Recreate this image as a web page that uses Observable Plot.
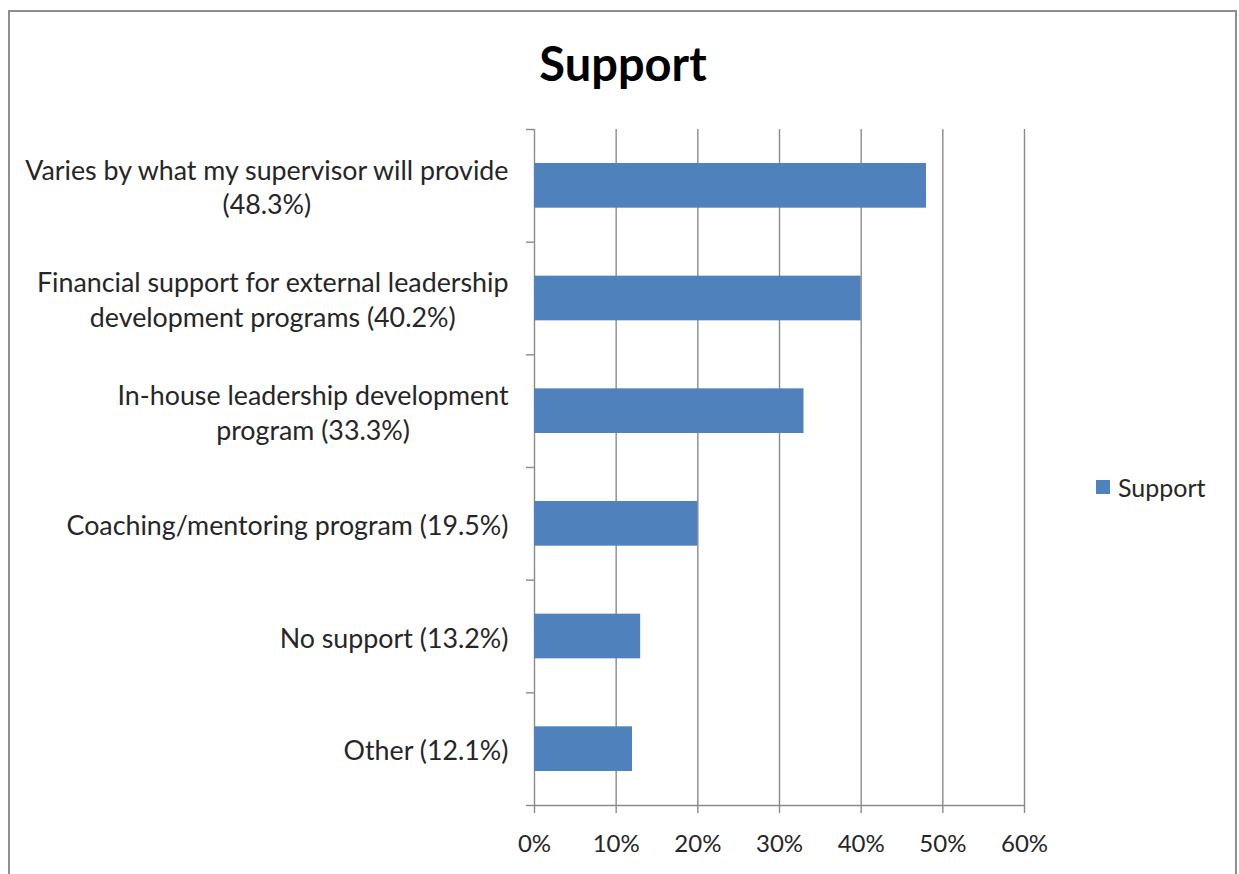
<!DOCTYPE html>
<html>
<head>
<meta charset="utf-8">
<script src="https://cdn.jsdelivr.net/npm/d3@7"></script>
<script src="https://cdn.jsdelivr.net/npm/@observablehq/plot@0.6"></script>
<style>
  html, body { margin: 0; padding: 0; overflow: hidden; background: #fff; }
  #wrap { position: relative; width: 1239px; height: 874px; font-family: Lato, "Open Sans", sans-serif; }
  #frame { position: absolute; left: 8px; top: 10px; width: 1229px; height: 900px; box-sizing: border-box; border: 2px solid #8e8e8e; border-bottom: none; }
  #title { position: absolute; left: 0; width: 1246px; top: 40px; text-align: center; font-size: 47px; font-weight: bold; color: #000; line-height: 1; }
  #chart { position: absolute; left: 0; top: 0; }
  #legend { position: absolute; left: 1096px; top: 470px; }
  #legend svg { margin-right: 8px !important; }
</style>
</head>
<body>
<div id="wrap">
  <div id="frame"></div>
  <div id="title">Support</div>
  <div id="chart"></div>
  <div id="legend"></div>
</div>
<script>
const categories = [
  "Varies by what my supervisor will provide\n(48.3%)",
  "Financial support for external leadership\ndevelopment programs (40.2%)",
  "In-house leadership development\nprogram (33.3%)",
  "Coaching/mentoring program (19.5%)",
  "No support (13.2%)",
  "Other (12.1%)"
];
const values = [0.48, 0.40, 0.33, 0.20, 0.13, 0.12];
const xTicks = [0, 0.1, 0.2, 0.3, 0.4, 0.5, 0.6];
const seriesName = "Support";
const barColor = "#4f81bd";

const data = categories.map((c, i) => ({category: c, index: i, value: values[i]}));
const boundaries = d3.range(categories.length + 1);
const centers = categories.map((c, i) => i + 0.5);

const plot = Plot.plot({
  width: 1239,
  height: 874,
  marginLeft: 534,
  marginRight: 215,
  marginTop: 129,
  marginBottom: 69,
  style: {fontFamily: "Lato, 'Open Sans', sans-serif", color: "#262626", background: "transparent"},
  x: {domain: [0, 0.6], label: null},
  y: {domain: [0, categories.length], reverse: true, label: null},
  marks: [
    Plot.gridX(xTicks, {stroke: "#8a8a8a", strokeOpacity: 1, strokeWidth: 1.4}),
    Plot.ruleY([categories.length], {stroke: "#8a8a8a", strokeWidth: 1.4}),
    Plot.rectX(data, {x1: 0, x2: "value", y1: "index", y2: d => d.index + 1, insetTop: 34, insetBottom: 34, fill: barColor}),
    Plot.axisX({ticks: xTicks, tickFormat: d3.format(".0%"), tickSize: 8, tickPadding: 21, stroke: "#8a8a8a", strokeWidth: 1.4, fontSize: 24, fill: "#262626", label: null}),
    Plot.axisY({ticks: boundaries, tickFormat: () => "", tickSize: 8, stroke: "#8a8a8a", strokeWidth: 1.4, label: null}),
    Plot.axisY({ticks: centers, tickFormat: t => categories[Math.floor(t)], tickSize: 0, tickPadding: 26, fontSize: 26.8, lineHeight: 1.3, fill: "#262626", label: null})
  ]
});
document.getElementById("chart").appendChild(plot);

// center each multi-line category label within its own block (right edge kept)
plot.querySelectorAll('g[aria-label="y-axis tick label"] text').forEach(t => {
  const spans = t.querySelectorAll("tspan");
  if (spans.length) {
    const w = Math.max(...Array.from(spans, s => s.getComputedTextLength()));
    t.setAttribute("text-anchor", "middle");
    spans.forEach(s => s.setAttribute("x", -w / 2));
  } else if (t.textContent) {
    const w = t.getComputedTextLength();
    t.setAttribute("text-anchor", "middle");
    t.setAttribute("x", -w / 2);
  }
});

const legend = Plot.legend({
  color: {type: "ordinal", domain: [seriesName], range: [barColor]},
  swatchSize: 14,
  style: {fontFamily: "Lato, 'Open Sans', sans-serif", fontSize: "25px", color: "#262626"}
});
document.getElementById("legend").appendChild(legend);
</script>
</body>
</html>
